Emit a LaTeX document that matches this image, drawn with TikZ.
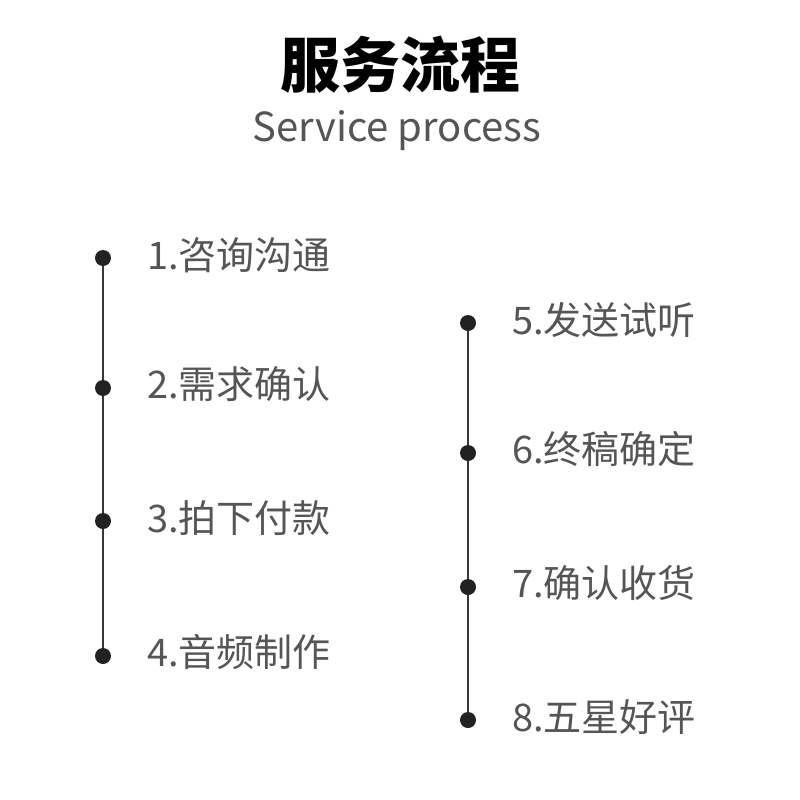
\documentclass[tikz,border=0pt]{standalone}
\usepackage{fontspec}
\newfontfamily\cjk{Noto Sans CJK SC}
\definecolor{txtgray}{HTML}{555555}
\definecolor{dotc}{HTML}{222222}
\begin{document}
\begin{tikzpicture}[x=1pt,y=-1pt,
  dotn/.style={circle,fill=dotc,inner sep=0pt,minimum size=16pt},
  itemtxt/.style={anchor=west,inner sep=0pt,text=txtgray,font=\cjk\fontsize{38}{38}\selectfont},
  vline/.style={draw=dotc!90,line width=2.2pt}]
\useasboundingbox (0,0) rectangle (800,800);
\node[font=\cjk\bfseries\fontsize{60}{60}\selectfont] (title) at (400,65) {服务流程};
\node[font=\cjk\fontsize{40}{40}\selectfont,text=txtgray] (sub) at (397,131) {Service process};
% left column
\coordinate (d1) at (103,258);
\coordinate (d2) at (103,388);
\coordinate (d3) at (103,521);
\coordinate (d4) at (103,656);
% right column
\coordinate (d5) at (468,323);
\coordinate (d6) at (468,453);
\coordinate (d7) at (468,587);
\coordinate (d8) at (468,720);
\draw[vline] (d1) -- (d4);
\draw[vline] (d5) -- (d8);
\foreach \i in {1,...,8} {\node[dotn] (n\i) at (d\i) {};}
\node[itemtxt] (t1) at (147,255) {1.咨询沟通};
\node[itemtxt] (t2) at (147,384) {2.需求确认};
\node[itemtxt] (t3) at (147,518) {3.拍下付款};
\node[itemtxt] (t4) at (147,652) {4.音频制作};
\node[itemtxt] (t5) at (512,320) {5.发送试听};
\node[itemtxt] (t6) at (512,449) {6.终稿确定};
\node[itemtxt] (t7) at (512,583) {7.确认收货};
\node[itemtxt] (t8) at (512,717) {8.五星好评};
\end{tikzpicture}
\end{document}
